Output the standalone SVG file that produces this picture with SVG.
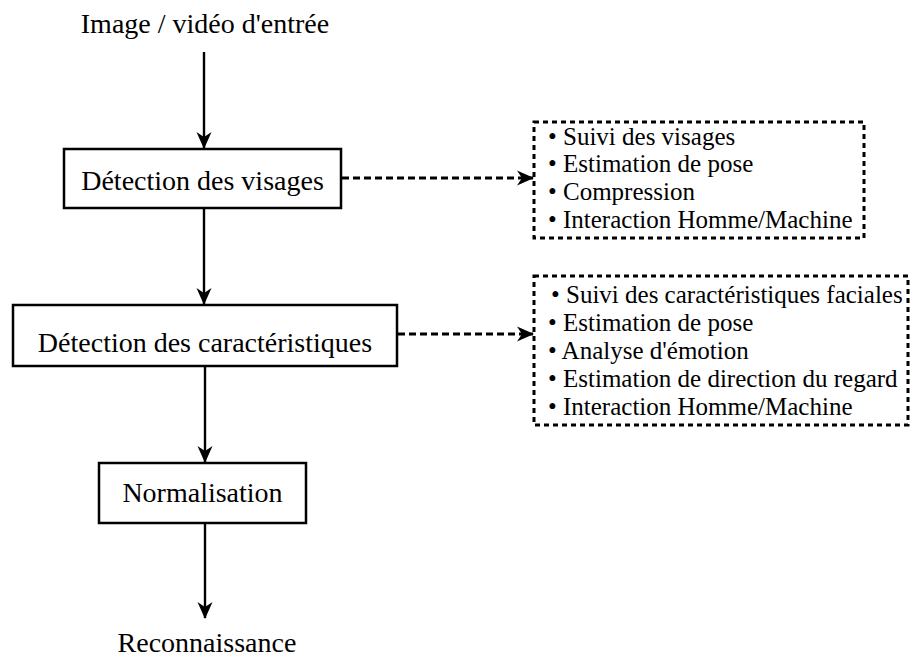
<svg xmlns="http://www.w3.org/2000/svg" width="911" height="660" viewBox="0 0 911 660">
  <defs>
    <style>
      text { font-family: "Liberation Serif", "Times New Roman", serif; fill: #000; }
      .title { font-size: 28px; text-anchor: middle; }
      .item { font-size: 25px; }
      .box { fill: #fff; stroke: #000; stroke-width: 2.5; }
      .list { fill: none; stroke: #000; stroke-width: 3; stroke-dasharray: 5 4; }
      .flow { fill: none; stroke: #000; stroke-width: 2.4; }
      .dash { fill: none; stroke: #000; stroke-width: 3; stroke-dasharray: 7 4; }
    </style>
    <marker id="head" markerUnits="userSpaceOnUse" markerWidth="17" markerHeight="17" viewBox="0 0 17 17" refX="16" refY="8.5" orient="auto">
      <path d="M0,1 L17,8.5 L0,16 L5,8.5 z" fill="#000"/>
    </marker>
  </defs>

  <!-- connectors -->
  <g id="connectors">
    <line class="flow" x1="204" y1="52" x2="204" y2="148" marker-end="url(#head)"/>
    <line class="flow" x1="204" y1="208" x2="204" y2="304" marker-end="url(#head)"/>
    <line class="flow" x1="205" y1="366" x2="205" y2="462" marker-end="url(#head)"/>
    <line class="flow" x1="205" y1="523" x2="205" y2="618" marker-end="url(#head)"/>
    <line class="dash" x1="342" y1="178" x2="533" y2="178" marker-end="url(#head)"/>
    <line class="dash" x1="398" y1="334" x2="533" y2="334" marker-end="url(#head)"/>
  </g>

  <g id="input">
    <text class="title" x="205" y="33">Image / vidéo d'entrée</text>
  </g>

  <g id="face-detection">
    <rect class="box" x="64" y="149" width="277" height="59"/>
    <text class="title" x="202.5" y="190">Détection des visages</text>
  </g>

  <g id="feature-detection">
    <rect class="box" x="13" y="305" width="384" height="61"/>
    <text class="title" x="205" y="352">Détection des caractéristiques</text>
  </g>

  <g id="normalisation">
    <rect class="box" x="99" y="463" width="207" height="60"/>
    <text class="title" x="202.5" y="502">Normalisation</text>
  </g>

  <g id="recognition">
    <text class="title" x="207" y="652">Reconnaissance</text>
  </g>

  <g id="face-uses">
    <rect class="list" x="534" y="122" width="330" height="116"/>
    <text class="item" x="548" y="145">• Suivi des visages</text>
    <text class="item" x="548" y="172">• Estimation de pose</text>
    <text class="item" x="548" y="200">• Compression</text>
    <text class="item" x="548" y="228">• Interaction Homme/Machine</text>
  </g>

  <g id="feature-uses">
    <rect class="list" x="534" y="276" width="374" height="149"/>
    <text class="item" x="551" y="303">• Suivi des caractéristiques faciales</text>
    <text class="item" x="548" y="331">• Estimation de pose</text>
    <text class="item" x="548" y="359">• Analyse d'émotion</text>
    <text class="item" x="548" y="387">• Estimation de direction du regard</text>
    <text class="item" x="548" y="415">• Interaction Homme/Machine</text>
  </g>
</svg>
